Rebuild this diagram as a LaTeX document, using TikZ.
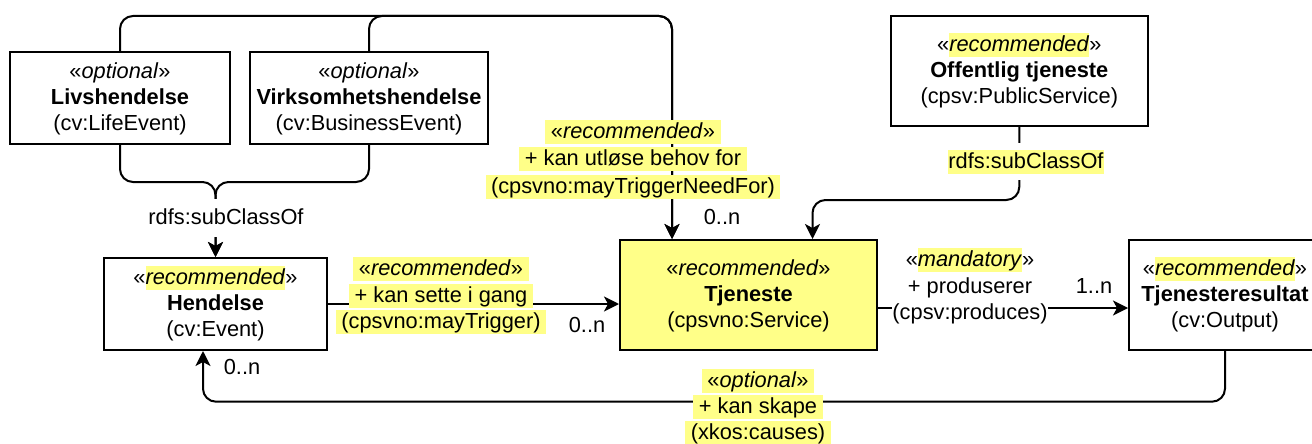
\documentclass[tikz,border=0pt]{standalone}
\usepackage{fontspec}
\setmainfont{Liberation Sans}
\usetikzlibrary{arrows.meta}
\definecolor{hl}{HTML}{FFFF88}
\newcommand{\dfont}{\fontsize{21.8}{26}\selectfont}
\newcommand{\mystrut}{\rule[-5.5pt]{0pt}{24pt}}
\newcommand{\HLw}[1]{{\setlength{\fboxsep}{0pt}\colorbox{hl}{\mystrut#1}}}
\newcommand{\HLl}[1]{{\setlength{\fboxsep}{0pt}\colorbox{hl}{\mystrut\hspace{5.5pt}#1\hspace{5.5pt}}}}
\tikzset{
  box/.style={draw, line width=2pt, inner sep=0pt, align=center, font=\dfont},
  arr/.style={draw, line width=2pt, rounded corners=13pt, -{Stealth[length=15pt,width=15pt,inset=4pt]}},
  lbl/.style={inner sep=0pt, align=center, font=\dfont},
}
\begin{document}
\begin{tikzpicture}[x=1pt,y=-1pt]
\useasboundingbox (0,0) rectangle (1312,444);
% boxes
\node[box, minimum width=220pt, minimum height=92pt] (liv) at (120,98)
  {\mystrut«\textit{optional}»\\\mystrut\textbf{Livshendelse}\\\mystrut(cv:LifeEvent)};
\node[box, minimum width=238pt, minimum height=92pt] (virk) at (369,98)
  {\mystrut«\textit{optional}»\\\mystrut\textbf{Virksomhetshendelse}\\\mystrut(cv:BusinessEvent)};
\node[box, minimum width=223pt, minimum height=92pt] (hend) at (215.5,304)
  {\mystrut«\HLw{\textit{recommended}}»\\\mystrut\textbf{Hendelse}\\\mystrut(cv:Event)};
\node[box, fill=hl, minimum width=257pt, minimum height=110pt] (tjen) at (748.5,295)
  {\mystrut«\textit{recommended}»\\\mystrut\textbf{Tjeneste}\\\mystrut(cpsvno:Service)};
\node[box, minimum width=256.5pt, minimum height=110pt] (off) at (1019.3,71)
  {\mystrut«\HLw{\textit{recommended}}»\\\mystrut\textbf{Offentlig tjeneste}\\\mystrut(cpsv:PublicService)};
\node[box, minimum width=192pt, minimum height=110pt] (res) at (1225,295)
  {\mystrut«\HLw{\textit{recommended}}»\\\mystrut\textbf{Tjenesteresultat}\\\mystrut(cv:Output)};
% helper coordinates
\coordinate (ttop) at (672,16);
\coordinate (bj) at (215.5,182);
\coordinate (obend) at (812.5,200);
\coordinate (bl) at (203,401.7);
% top connectors
\draw[arr] (liv.north) |- (ttop) -- (ttop |- tjen.north);
\draw[arr] (virk.north) |- (ttop) -- (ttop |- tjen.north);
% brace to Hendelse
\draw[arr] (liv.south) |- (bj) -- (bj |- hend.north);
\draw[arr] (virk.south) |- (bj) -- (bj |- hend.north);
\node[lbl, fill=white, inner ysep=7pt] (sub1) at (226,218) {\mystrut rdfs:subClassOf};
% Hendelse -> Tjeneste
\draw[arr] (hend.east) -- (hend.east -| tjen.west);
% Offentlig -> Tjeneste
\draw[arr] (off.south) |- (obend) -- (obend |- tjen.north);
\node[lbl, fill=white, inner ysep=6.5pt] (sub2) at (1026,161.5) {\HLw{rdfs:subClassOf}};
% Tjeneste -> Tjenesteresultat
\draw[arr] ([yshift=-13pt]tjen.east) -- ([yshift=-13pt]res.west);
% Tjenesteresultat -> Hendelse
\draw[arr] (res.south) |- (bl) -- (bl |- hend.south);
% labels
\node[lbl, font=\fontsize{21.8}{27.5}\selectfont] (l1) at (633,159.2)
  {\HLl{«\textit{recommended}»}\\\HLl{+ kan utløse behov for}\\\HLl{(cpsvno:mayTriggerNeedFor)}};
\node[lbl, font=\fontsize{21.8}{26.3}\selectfont] (l2) at (441,295.5)
  {\HLl{«\textit{recommended}»}\\\HLl{+ kan sette i gang}\\\HLl{(cpsvno:mayTrigger)}};
\node[lbl, fill=white, font=\fontsize{21.8}{26.5}\selectfont] (l3) at (970,286.7)
  {\mystrut«\HLw{\textit{mandatory}}»\\\mystrut+ produserer\\\mystrut(cpsv:produces)};
\node[lbl, font=\fontsize{21.8}{25.7}\selectfont] (l4) at (758,407)
  {\HLl{«\textit{optional}»}\\\HLl{+ kan skape}\\\HLl{(xkos:causes)}};
% multiplicities
\node[lbl] (m1) at (722,218) {\mystrut 0..n};
\node[lbl] (m2) at (587,326) {\mystrut 0..n};
\node[lbl] (m3) at (242,368) {\mystrut 0..n};
\node[lbl] (m4) at (1094,287) {\mystrut 1..n};
\end{tikzpicture}
\end{document}
